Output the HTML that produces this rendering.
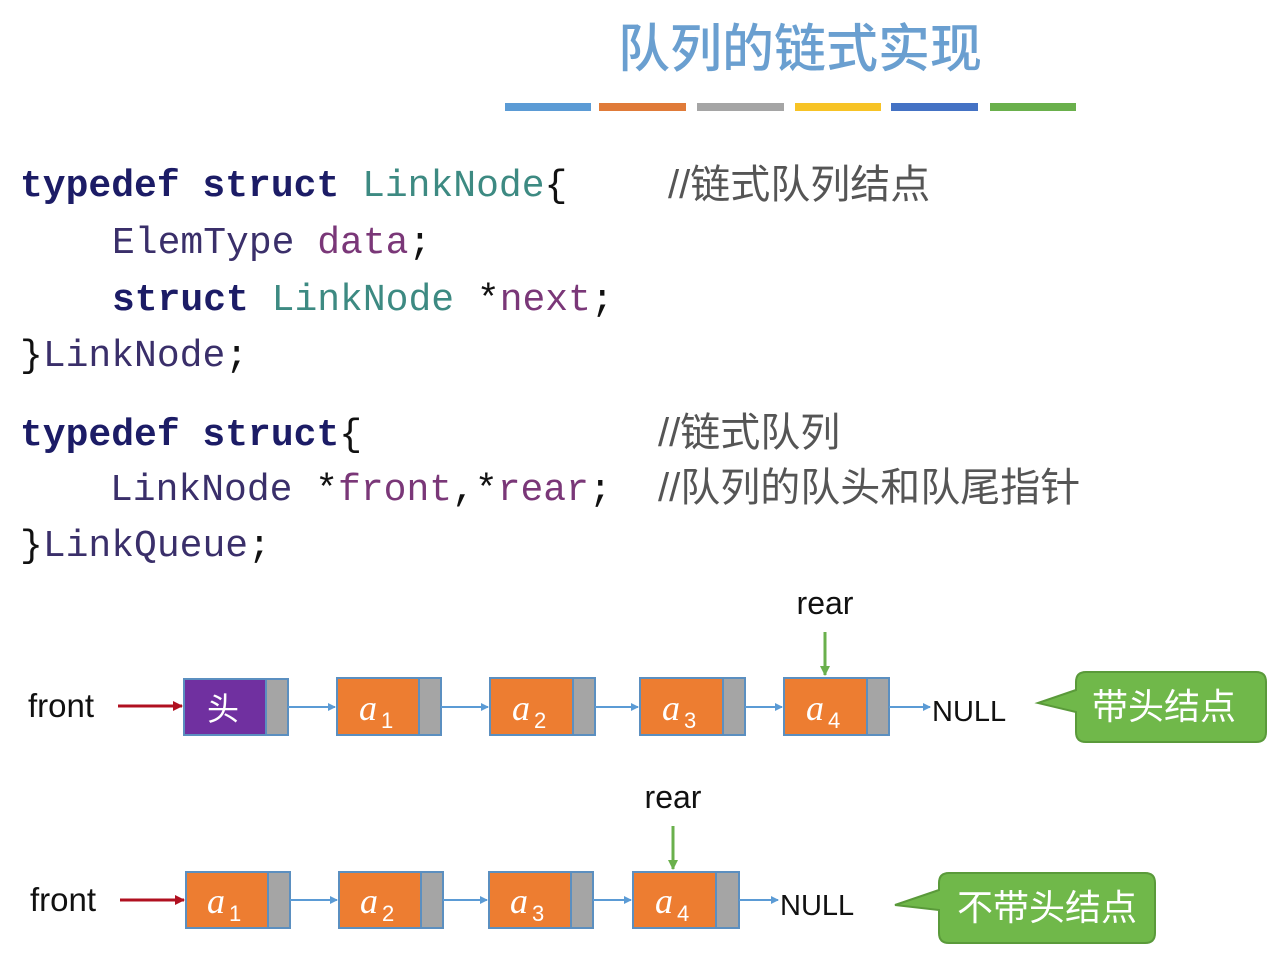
<!DOCTYPE html>
<html><head><meta charset="utf-8"><style>
html,body{margin:0;padding:0;background:#fff;}
svg{display:block}
.code{font-family:"Liberation Mono","DejaVu Sans Mono",monospace;font-size:38px;}
.kw{fill:#1c1c66;font-weight:600}
.ty{fill:#3d8a82}
.id{fill:#3a2f6a}
.va{fill:#7a3778}
.pn{fill:#111}
.cm{font-family:"Liberation Sans","Noto Sans CJK SC",sans-serif;font-size:40px;fill:#555}
.lb{font-family:"Liberation Sans","DejaVu Sans",sans-serif;font-size:29px;fill:#111}
.fr{font-family:"Liberation Sans","DejaVu Sans",sans-serif;font-size:33px;fill:#111}
.nd{font-family:"Liberation Serif","DejaVu Serif",serif;font-style:italic;font-size:36px;fill:#fff}
.sb{font-family:"Liberation Sans",sans-serif;font-size:22px;fill:#fff}
.cj{font-family:"Noto Sans CJK SC",sans-serif;font-size:36px;fill:#fff}
</style></head><body>
<svg width="1281" height="956" viewBox="0 0 1281 956" xmlns="http://www.w3.org/2000/svg">
<defs>
<marker id="bl" markerWidth="8" markerHeight="8" refX="7" refY="4" orient="auto" markerUnits="userSpaceOnUse"><path d="M0,0 L8,4 L0,8z" fill="#5b9bd5"/></marker>
<marker id="rd" markerWidth="10" markerHeight="10" refX="9" refY="5" orient="auto" markerUnits="userSpaceOnUse"><path d="M0,0 L10,5 L0,10z" fill="#b01020"/></marker>
<marker id="gr" markerWidth="10" markerHeight="10" refX="9" refY="5" orient="auto" markerUnits="userSpaceOnUse"><path d="M0,0 L10,5 L0,10z" fill="#6ab04c"/></marker>
</defs>
<text x="800" y="67" text-anchor="middle" style="font-family:'Noto Sans CJK SC',sans-serif;font-size:52px;font-weight:500;fill:#6a9fd0">队列的链式实现</text>
<g>
<rect x="505" y="103" width="86" height="8" fill="#5b9bd5"/>
<rect x="599" y="103" width="87" height="8" fill="#e07b39"/>
<rect x="697" y="103" width="87" height="8" fill="#a5a5a5"/>
<rect x="795" y="103" width="86" height="8" fill="#f7c325"/>
<rect x="891" y="103" width="87" height="8" fill="#4472c4"/>
<rect x="990" y="103" width="86" height="8" fill="#6ab04c"/>
</g>
<text class="code" x="20" y="196"><tspan class="kw">typedef struct </tspan><tspan class="ty">LinkNode</tspan><tspan class="pn">{</tspan></text>
<text class="code" x="112" y="253"><tspan class="id">ElemType </tspan><tspan class="va">data</tspan><tspan class="pn">;</tspan></text>
<text class="code" x="112" y="310"><tspan class="kw">struct </tspan><tspan class="ty">LinkNode </tspan><tspan class="pn">*</tspan><tspan class="va">next</tspan><tspan class="pn">;</tspan></text>
<text class="code" x="20" y="366"><tspan class="pn">}</tspan><tspan class="id">LinkNode</tspan><tspan class="pn">;</tspan></text>
<text class="code" x="20" y="445"><tspan class="kw">typedef struct</tspan><tspan class="pn">{</tspan></text>
<text class="code" x="110" y="500"><tspan class="id">LinkNode </tspan><tspan class="pn">*</tspan><tspan class="va">front</tspan><tspan class="pn">,*</tspan><tspan class="va">rear</tspan><tspan class="pn">;</tspan></text>
<text class="code" x="20" y="556"><tspan class="pn">}</tspan><tspan class="id">LinkQueue</tspan><tspan class="pn">;</tspan></text>
<text class="cm" x="668" y="198">//链式队列结点</text>
<text class="cm" x="658" y="446">//链式队列</text>
<text class="cm" x="658" y="501">//队列的队头和队尾指针</text>

<!-- row 1 -->
<text class="fr" x="28" y="717">front</text>
<line x1="118" y1="706" x2="182" y2="706" stroke="#b01020" stroke-width="3" marker-end="url(#rd)"/>
<rect x="184" y="679" width="82" height="56" fill="#7030a0" stroke="#5b8fc0" stroke-width="2"/>
<rect x="266" y="679" width="22" height="56" fill="#a5a5a5" stroke="#5b8fc0" stroke-width="2"/>
<text class="cj" x="223" y="720" text-anchor="middle" style="font-size:32px">头</text>
<line x1="288" y1="707" x2="335" y2="707" stroke="#5b9bd5" stroke-width="2" marker-end="url(#bl)"/>
<g>
<rect x="337" y="678" width="82" height="57" fill="#ed7d31" stroke="#5b8fc0" stroke-width="2"/><rect x="419" y="678" width="22" height="57" fill="#a5a5a5" stroke="#5b8fc0" stroke-width="2"/>
<text class="nd" x="359" y="720">a</text><text class="sb" x="381" y="728">1</text>
<line x1="441" y1="707" x2="488" y2="707" stroke="#5b9bd5" stroke-width="2" marker-end="url(#bl)"/>
<rect x="490" y="678" width="83" height="57" fill="#ed7d31" stroke="#5b8fc0" stroke-width="2"/><rect x="573" y="678" width="22" height="57" fill="#a5a5a5" stroke="#5b8fc0" stroke-width="2"/>
<text class="nd" x="512" y="720">a</text><text class="sb" x="534" y="728">2</text>
<line x1="595" y1="707" x2="638" y2="707" stroke="#5b9bd5" stroke-width="2" marker-end="url(#bl)"/>
<rect x="640" y="678" width="83" height="57" fill="#ed7d31" stroke="#5b8fc0" stroke-width="2"/><rect x="723" y="678" width="22" height="57" fill="#a5a5a5" stroke="#5b8fc0" stroke-width="2"/>
<text class="nd" x="662" y="720">a</text><text class="sb" x="684" y="728">3</text>
<line x1="745" y1="707" x2="782" y2="707" stroke="#5b9bd5" stroke-width="2" marker-end="url(#bl)"/>
<rect x="784" y="678" width="83" height="57" fill="#ed7d31" stroke="#5b8fc0" stroke-width="2"/><rect x="867" y="678" width="22" height="57" fill="#a5a5a5" stroke="#5b8fc0" stroke-width="2"/>
<text class="nd" x="806" y="720">a</text><text class="sb" x="828" y="728">4</text>
<line x1="889" y1="707" x2="930" y2="707" stroke="#5b9bd5" stroke-width="2" marker-end="url(#bl)"/>
</g>
<text class="lb" x="932" y="721">NULL</text>
<text class="lb" x="825" y="614" text-anchor="middle" style="font-size:32px">rear</text>
<line x1="825" y1="632" x2="825" y2="675" stroke="#6ab04c" stroke-width="3" marker-end="url(#gr)"/>
<path d="M1086,672 H1256 Q1266,672 1266,682 V732 Q1266,742 1256,742 H1086 Q1076,742 1076,732 V712 L1038,703 L1076,690 V682 Q1076,672 1086,672z" fill="#70b84a" stroke="#5a9a3a" stroke-width="2"/>
<text class="cj" x="1164" y="719" text-anchor="middle">带头结点</text>

<!-- row 2 -->
<text class="fr" x="30" y="911">front</text>
<line x1="120" y1="900" x2="184" y2="900" stroke="#b01020" stroke-width="3" marker-end="url(#rd)"/>
<rect x="186" y="872" width="82" height="56" fill="#ed7d31" stroke="#5b8fc0" stroke-width="2"/><rect x="268" y="872" width="22" height="56" fill="#a5a5a5" stroke="#5b8fc0" stroke-width="2"/>
<text class="nd" x="207" y="913">a</text><text class="sb" x="229" y="921">1</text>
<line x1="290" y1="900" x2="337" y2="900" stroke="#5b9bd5" stroke-width="2" marker-end="url(#bl)"/>
<rect x="339" y="872" width="82" height="56" fill="#ed7d31" stroke="#5b8fc0" stroke-width="2"/><rect x="421" y="872" width="22" height="56" fill="#a5a5a5" stroke="#5b8fc0" stroke-width="2"/>
<text class="nd" x="360" y="913">a</text><text class="sb" x="382" y="921">2</text>
<line x1="443" y1="900" x2="487" y2="900" stroke="#5b9bd5" stroke-width="2" marker-end="url(#bl)"/>
<rect x="489" y="872" width="82" height="56" fill="#ed7d31" stroke="#5b8fc0" stroke-width="2"/><rect x="571" y="872" width="22" height="56" fill="#a5a5a5" stroke="#5b8fc0" stroke-width="2"/>
<text class="nd" x="510" y="913">a</text><text class="sb" x="532" y="921">3</text>
<line x1="593" y1="900" x2="631" y2="900" stroke="#5b9bd5" stroke-width="2" marker-end="url(#bl)"/>
<rect x="633" y="872" width="83" height="56" fill="#ed7d31" stroke="#5b8fc0" stroke-width="2"/><rect x="716" y="872" width="23" height="56" fill="#a5a5a5" stroke="#5b8fc0" stroke-width="2"/>
<text class="nd" x="655" y="913">a</text><text class="sb" x="677" y="921">4</text>
<line x1="739" y1="900" x2="778" y2="900" stroke="#5b9bd5" stroke-width="2" marker-end="url(#bl)"/>
<text class="lb" x="780" y="915">NULL</text>
<text class="lb" x="673" y="808" text-anchor="middle" style="font-size:32px">rear</text>
<line x1="673" y1="826" x2="673" y2="869" stroke="#6ab04c" stroke-width="3" marker-end="url(#gr)"/>
<path d="M949,873 H1145 Q1155,873 1155,883 V933 Q1155,943 1145,943 H949 Q939,943 939,933 V910 L895,905 L939,890 V883 Q939,873 949,873z" fill="#70b84a" stroke="#5a9a3a" stroke-width="2"/>
<text class="cj" x="1047" y="920" text-anchor="middle">不带头结点</text>
</svg>
</body></html>
